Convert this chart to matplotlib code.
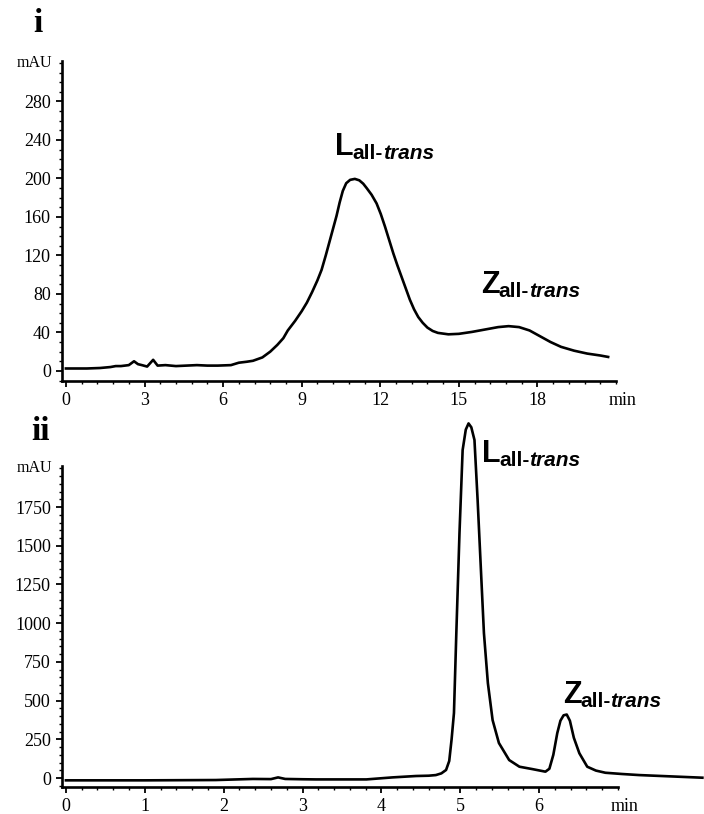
import matplotlib
matplotlib.use("Agg")
import matplotlib.pyplot as plt
from matplotlib.ticker import MultipleLocator, FixedLocator

# Chromatogram i: retention time (min) and absorbance (mAU)
time_i = [0.0, 0.8, 1.3, 1.7, 1.9, 2.1, 2.4, 2.6, 2.75, 2.9, 3.1, 3.33, 3.5, 3.8,
          4.2, 4.6, 5.0, 5.4, 5.8, 6.3, 6.6, 6.9, 7.14, 7.5, 7.8, 8.07, 8.3, 8.47,
          8.75, 9.0, 9.2, 9.4, 9.6, 9.76, 9.92, 10.08, 10.2, 10.33, 10.45, 10.57,
          10.7, 10.85, 11.03, 11.2, 11.35, 11.48, 11.67, 11.86, 12.02, 12.18, 12.34,
          12.5, 12.65, 12.81, 12.97, 13.13, 13.29, 13.45, 13.62, 13.8, 14.0, 14.2,
          14.6, 15.0, 15.5, 16.0, 16.5, 16.9, 17.3, 17.7, 18.1, 18.5, 18.9, 19.4,
          19.9, 20.4, 20.7]
mau_i = [2.5, 2.5, 3, 4, 5, 5, 6, 10, 7, 6, 4.5, 11.5, 5.5, 6,
         5, 5.5, 6, 5.5, 5.5, 6, 8.5, 9.5, 10.5, 14, 20, 27, 34, 42,
         52, 62, 71, 82, 94, 105, 120, 136, 148, 161, 175, 187,
         195, 198.5, 199.5, 198, 194.5, 190, 183, 174, 163, 150, 136,
         122, 110, 98, 86, 74, 64, 56, 50, 45, 41.5, 39.5,
         38, 38.5, 40.5, 43, 45.5, 46.5, 45.5, 42, 36, 30, 25, 21,
         18, 16, 14.5]

# Chromatogram ii
time_ii = [0.0, 1.0, 1.9, 2.1, 2.37, 2.6, 2.69, 2.78, 3.0, 3.17, 3.5, 3.81, 4.14,
           4.44, 4.6, 4.69, 4.76, 4.82, 4.86, 4.89, 4.92, 4.95, 4.99, 5.03, 5.07,
           5.105, 5.14, 5.18, 5.22, 5.26, 5.30, 5.35, 5.41, 5.49, 5.62, 5.75, 5.91,
           6.08, 6.13, 6.18, 6.23, 6.27, 6.31, 6.35, 6.39, 6.44, 6.51, 6.61, 6.72,
           6.84, 7.05, 7.27, 7.6, 8.07]
mau_ii = [-15, -15, -13, -10, -6, -7, 4, -6, -8, -9, -9, -9, 4,
          13, 15, 19, 30, 52, 110, 250, 420, 936, 1582, 2118, 2250,
          2290, 2265, 2183, 1795, 1364, 936, 613, 374, 226, 116, 73, 58,
          41, 60, 150, 290, 370, 405, 410, 370, 260, 160, 73, 48,
          34, 26, 19, 12, 2]

xticks_i = [0, 3, 6, 9, 12, 15, 18]
yticks_i = [0, 40, 80, 120, 160, 200, 240, 280]
xticks_ii = [0, 1, 2, 3, 4, 5, 6]
yticks_ii = [0, 250, 500, 750, 1000, 1250, 1500, 1750]

# peak labels: (main letter, position in data coords)
peaks_i = [("L", 10.28, 224), ("Z", 15.85, 81)]
peaks_ii = [("L", 5.27, 2040), ("Z", 6.30, 484)]

SERIF = "Liberation Serif"
SANS = "Liberation Sans"
DPI = 100

fig = plt.figure(figsize=(7.04, 8.14), dpi=DPI)
ax1 = fig.add_axes([62 / 704, 1 - 381 / 814, 554 / 704, 320 / 814])
ax2 = fig.add_axes([62 / 704, 1 - 787 / 814, 556 / 704, 321 / 814])


def style_axis(ax, xlim, ylim, xt, yt, xminor, yminor):
    ax.set_xlim(*xlim)
    ax.set_ylim(*ylim)
    for s in ("top", "right"):
        ax.spines[s].set_visible(False)
    for s in ("left", "bottom"):
        ax.spines[s].set_linewidth(1.9)
    ax.xaxis.set_major_locator(FixedLocator(xt))
    ax.yaxis.set_major_locator(FixedLocator(yt))
    ax.xaxis.set_minor_locator(MultipleLocator(xminor))
    ax.yaxis.set_minor_locator(MultipleLocator(yminor))
    ax.tick_params(which="major", direction="out", length=4, width=1.3,
                   labelsize=13, pad=4)
    ax.tick_params(which="minor", direction="out", length=2.2, width=1.0)
    for lab in ax.get_xticklabels() + ax.get_yticklabels():
        lab.set_fontfamily(SERIF)
    ax.annotate("mAU", xy=(0, 1), xycoords="axes fraction", xytext=(-7, -1.5),
                textcoords="offset points", ha="right", va="center",
                fontsize=11.5, family=SERIF)
    ax.annotate("min", xy=(1, 0), xycoords="axes fraction", xytext=(4.5, -8),
                textcoords="offset points", ha="center", va="top",
                fontsize=13, family=SERIF)


def peak_label(ax, letter, x, y):
    ax.annotate(letter, xy=(x, y), xycoords="data", ha="left", va="baseline",
                fontsize=22, fontweight="bold", family=SANS, annotation_clip=False)
    sub = ax.annotate("all-", xy=(x, y), xycoords="data", xytext=(12.5, -3),
                      textcoords="offset points", ha="left", va="baseline",
                      fontsize=15, fontweight="bold", family=SANS,
                      annotation_clip=False)
    ax.annotate("trans", xy=(1, 0), xycoords=sub, ha="left", va="bottom",
                fontsize=15, fontweight="bold", fontstyle="italic", family=SANS,
                annotation_clip=False)


style_axis(ax1, (-0.15, 21.0), (-10.5, 322), xticks_i, yticks_i, 0.6, 10)
style_axis(ax2, (-0.05, 7.0), (-58, 2015), xticks_ii, yticks_ii, 0.2, 50)

ax1.plot(time_i, mau_i, color="black", lw=1.9, solid_joinstyle="round")
ax2.plot(time_ii, mau_ii, color="black", lw=1.9, solid_joinstyle="round",
         clip_on=False)

for letter, x, y in peaks_i:
    peak_label(ax1, letter, x, y)
for letter, x, y in peaks_ii:
    peak_label(ax2, letter, x, y)

fig.text(38 / 704, 1 - 24 / 814, "i", ha="center", va="center", fontsize=24,
         fontweight="bold", family=SERIF)
fig.text(40 / 704, 1 - 431 / 814, "ii", ha="center", va="center", fontsize=24,
         fontweight="bold", family=SERIF)

fig.savefig("out.png", dpi=DPI)
